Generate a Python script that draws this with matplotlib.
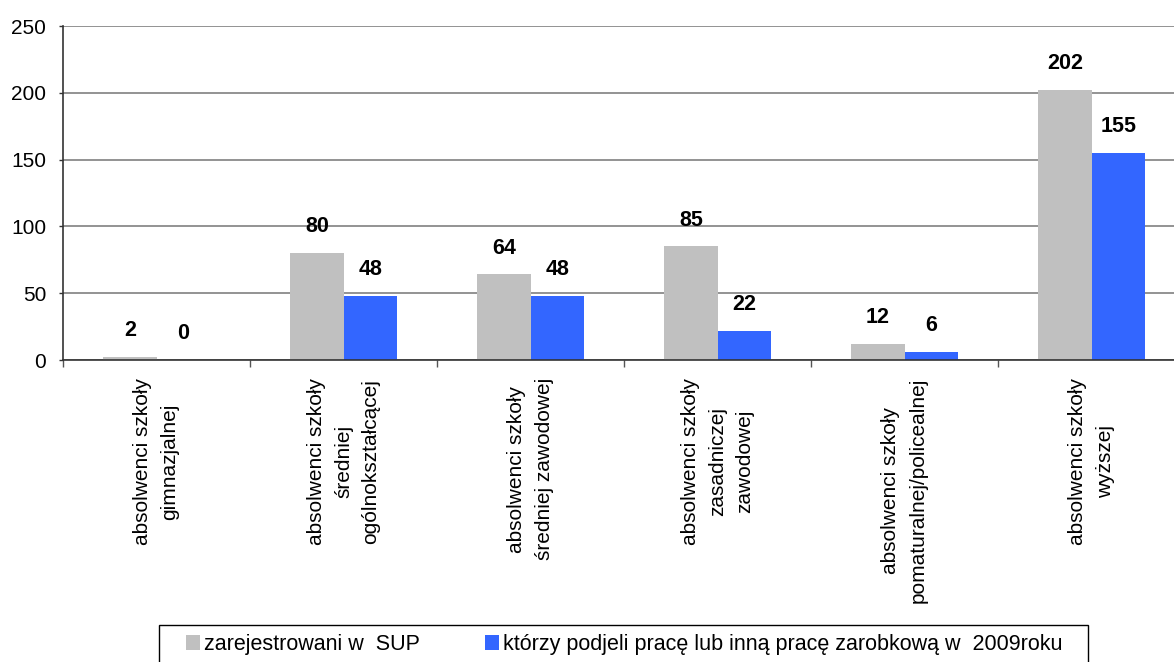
import matplotlib
matplotlib.use("Agg")
import matplotlib.pyplot as plt
from matplotlib.patches import Rectangle
import numpy as np

categories = [
    "absolwenci szkoły\ngimnazjalnej",
    "absolwenci szkoły\nśredniej\nogólnokształcącej",
    "absolwenci szkoły\nśredniej zawodowej",
    "absolwenci szkoły\nzasadniczej\nzawodowej",
    "absolwenci szkoły\npomaturalnej/policealnej",
    "absolwenci szkoły\nwyższej",
]
registered = [2, 80, 64, 85, 12, 202]
employed = [0, 48, 48, 22, 6, 155]
series_names = ["zarejestrowani w  SUP",
                "którzy podjeli pracę lub inną pracę zarobkową w  2009roku"]
y_ticks = [0, 50, 100, 150, 200, 250]

plt.rcParams['font.family'] = ['Liberation Sans', 'DejaVu Sans']

W, H = 1174, 662
fig = plt.figure(figsize=(W / 100, H / 100), dpi=100)
ax = fig.add_axes([63 / W, 1 - 360 / H, (1185 - 63) / W, (360 - 26) / H])

x = np.arange(len(categories))
bw = 0.285
b1 = ax.bar(x - bw / 2, registered, bw, color="#C0C0C0", label=series_names[0], zorder=3)
b2 = ax.bar(x + bw / 2, employed, bw, color="#3366FF", label=series_names[1], zorder=3)

for bars, vals in ((b1, registered), (b2, employed)):
    for r, v in zip(bars, vals):
        ax.annotate(str(v), (r.get_x() + r.get_width() / 2, r.get_height()),
                    xytext=(0, 19), textcoords="offset points",
                    ha="center", va="center", fontsize=15.5, fontweight="bold",
                    color="black", zorder=4)

ax.set_xlim(-0.5, len(categories) - 0.5)
ax.set_ylim(0, 250)
ax.set_yticks(y_ticks)
ax.tick_params(axis='y', labelsize=15, length=3, width=1, pad=9, color="#333333")
ax.yaxis.grid(True, color="#808080", linewidth=1.2, zorder=0)
ax.set_axisbelow(True)

ax.set_xticks(np.arange(-0.5, len(categories), 1.0))
ax.set_xticklabels([])
ax.tick_params(axis='x', which='major', length=5, width=1, color="#555555")
ax.set_xticks(x, categories, minor=True)
ax.tick_params(axis='x', which='minor', length=0, pad=13, labelsize=15)
for lab in ax.get_xticklabels(minor=True):
    lab.set_rotation(90)
    lab.set_ha("center")
    lab.set_va("top")
    lab.set_multialignment("center")
    lab.set_linespacing(1.55)

for s in ("top", "right"):
    ax.spines[s].set_visible(False)
for s in ("left", "bottom"):
    ax.spines[s].set_color("#333333")
    ax.spines[s].set_linewidth(1.2)
ax.spines["bottom"].set_zorder(5)

# legend frame (extends past the bottom edge as in the reference)
fig.patches.append(Rectangle((159 / W, -0.05), (1088 - 159) / W, 0.05 + 1 - 625 / H,
                             transform=fig.transFigure, facecolor="none",
                             edgecolor="black", linewidth=1))
leg = fig.legend(handles=[b1, b2], loc="upper left",
                 bbox_to_anchor=(186 / W, 1 - 634 / H), ncol=2,
                 fontsize=15.5, frameon=False,
                 handlelength=0.65, handleheight=0.65, handletextpad=0.2,
                 columnspacing=3.0, borderpad=0, borderaxespad=0)

fig.savefig("out.png", dpi=100)
